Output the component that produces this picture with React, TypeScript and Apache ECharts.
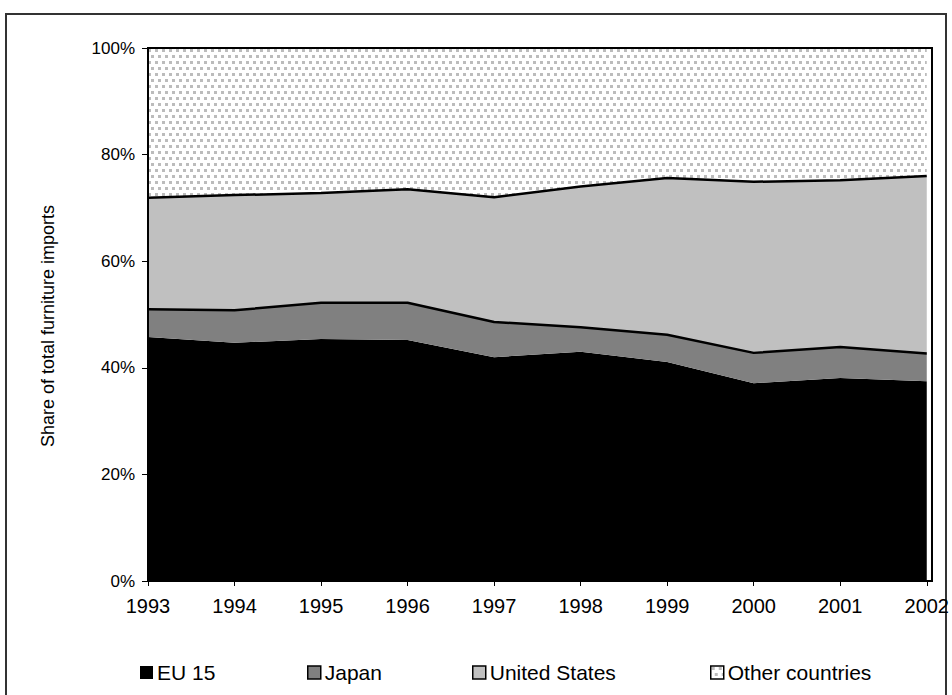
import React, { useEffect, useRef } from "react";
import * as echarts from "echarts";

const years = ["1993", "1994", "1995", "1996", "1997", "1998", "1999", "2000", "2001", "2002"];
const eu15 = [45.8, 44.7, 45.4, 45.2, 42.0, 43.0, 41.1, 37.1, 38.1, 37.5];
const japan = [5.2, 6.1, 6.8, 7.0, 6.6, 4.6, 5.1, 5.7, 5.8, 5.2];
const unitedStates = [20.9, 21.6, 20.6, 21.3, 23.4, 26.4, 29.4, 32.1, 31.3, 33.3];
const otherCountries = [28.1, 27.6, 27.2, 26.5, 28.0, 26.0, 24.4, 25.1, 24.8, 24.0];
const seriesNames = ["EU 15", "Japan", "United States", "Other countries"];
const yTicks = [0, 20, 40, 60, 80, 100];
const yAxisTitle = "Share of total furniture imports";

const GRID = { left: 148, top: 48, right: 20, bottom: 114 };
const FONT = "'Liberation Sans', Arial, sans-serif";

function makePattern(): string {
  const c = document.createElement("canvas");
  c.width = 14;
  c.height = 12;
  const ctx = c.getContext("2d")!;
  ctx.fillStyle = "#ffffff";
  ctx.fillRect(0, 0, 14, 12);
  ctx.fillStyle = "#bcbcbc";
  ctx.fillRect(1, 1, 3, 3);
  ctx.fillRect(8, 1, 3, 3);
  ctx.fillRect(4, 7, 3, 3);
  ctx.fillRect(11, 7, 3, 3);
  return c.toDataURL();
}

export default function App() {
  const ref = useRef<HTMLDivElement>(null);
  useEffect(() => {
    if (!ref.current) return;
    const chart = echarts.init(ref.current, null, { renderer: "svg" });
    const pattern = { image: makePattern(), repeat: "repeat" as const };
    const colors = ["#000000", "#808080", "#c0c0c0", pattern];
    const values = [eu15, japan, unitedStates, otherCountries];
    const lineWidths = [0, 2.5, 2.5, 0];
    const zs = [2, 5, 4, 3];
    const legendLeft = [135, 302, 467, 705];

    const W = 952, H = 695;
    chart.setOption({
      animation: false,
      textStyle: { fontFamily: FONT },
      grid: { left: GRID.left, top: GRID.top, right: GRID.right, bottom: GRID.bottom },
      legend: seriesNames.map((n, i) => ({
        data: [n],
        left: legendLeft[i],
        top: 657,
        padding: 5,
        itemWidth: 13,
        itemHeight: 13,
        itemGap: 5,
        icon: "rect",
        textStyle: { fontSize: 21, color: "#000", fontFamily: FONT, padding: [0, 0, 0, -1] },
        itemStyle: i === 0 ? { borderWidth: 0 } : { borderColor: "#000", borderWidth: 1.5 },
        selectedMode: false,
      })),
      xAxis: {
        type: "category",
        data: years,
        boundaryGap: false,
        axisLine: { show: true, lineStyle: { color: "#000", width: 1 } },
        axisTick: { show: true, length: 5, lineStyle: { color: "#000" } },
        axisLabel: { fontSize: 20, color: "#000", margin: 15, fontFamily: FONT },
        splitLine: { show: false },
      },
      yAxis: {
        type: "value",
        min: yTicks[0],
        max: yTicks[yTicks.length - 1],
        interval: yTicks[1] - yTicks[0],
        axisLine: { show: true, lineStyle: { color: "#000", width: 2 } },
        axisTick: { show: true, length: 6, lineStyle: { color: "#000" } },
        axisLabel: { fontSize: 17, color: "#000", margin: 13, formatter: "{value}%", fontFamily: FONT },
        splitLine: { show: false },
      },
      graphic: [
        {
          type: "rect",
          shape: { x: 6, y: 14, width: 940, height: 720 },
          style: { fill: "none", stroke: "#333", lineWidth: 2 },
          silent: true,
          z: 0,
        },
        {
          type: "rect",
          shape: { x: GRID.left, y: GRID.top, width: W - GRID.left - GRID.right, height: H - GRID.top - GRID.bottom },
          style: { fill: "none", stroke: "#000", lineWidth: 2 },
          silent: true,
          z: 100,
        },
        {
          type: "text",
          x: 48,
          y: 326,
          rotation: Math.PI / 2,
          style: {
            text: yAxisTitle,
            fontSize: 18,
            fontFamily: FONT,
            fill: "#000",
            align: "center",
            verticalAlign: "middle",
          },
          silent: true,
        },
      ],
      series: seriesNames.map((n, i) => ({
        name: n,
        type: "line",
        stack: "total",
        data: values[i],
        symbol: "none",
        showSymbol: false,
        z: zs[i],
        color: colors[i],
        itemStyle: { color: colors[i] },
        lineStyle: { color: "#000", width: lineWidths[i], opacity: lineWidths[i] > 0 ? 1 : 0 },
        areaStyle: { color: colors[i], opacity: 1 },
      })),
    });
    return () => chart.dispose();
  }, []);
  return (
    <div
      ref={ref}
      style={{ position: "fixed", left: 0, top: 0, width: 952, height: 695, background: "#fff" }}
    />
  );
}
